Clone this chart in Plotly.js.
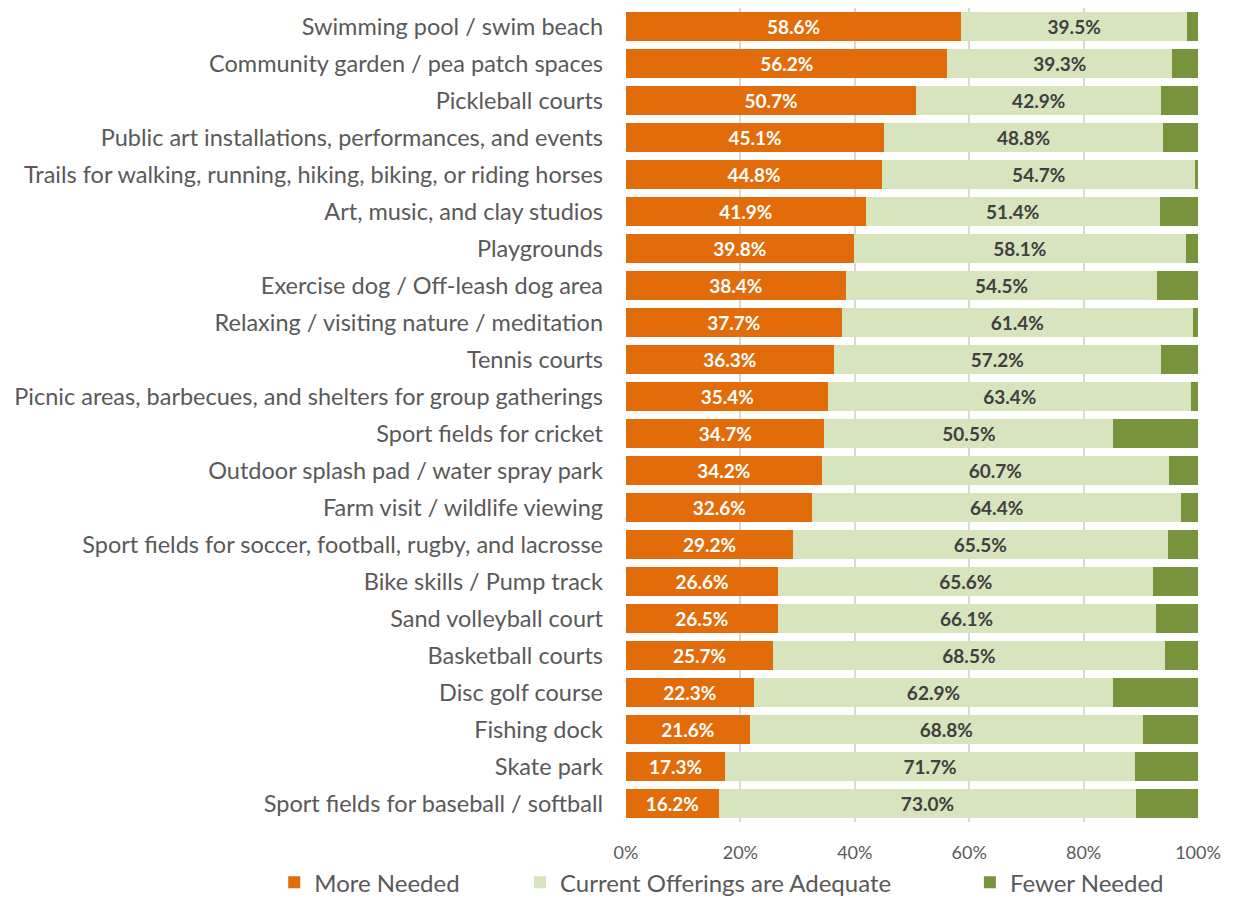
<!DOCTYPE html>
<html><head><meta charset="utf-8">
<script src="https://cdn.plot.ly/plotly-3.0.1.min.js"></script>
<style>html,body{margin:0;padding:0;background:#fff}#chart{width:1233px;height:899px}</style>
</head><body><div id="chart"></div>
<script>
const categories = [
"Swimming pool / swim beach",
"Community garden / pea patch spaces",
"Pickleball courts",
"Public art installations, performances, and events",
"Trails for walking, running, hiking, biking, or riding horses",
"Art, music, and clay studios",
"Playgrounds",
"Exercise dog / Off-leash dog area",
"Relaxing / visiting nature / meditation",
"Tennis courts",
"Picnic areas, barbecues, and shelters for group gatherings",
"Sport fields for cricket",
"Outdoor splash pad / water spray park",
"Farm visit / wildlife viewing",
"Sport fields for soccer, football, rugby, and lacrosse",
"Bike skills / Pump track",
"Sand volleyball court",
"Basketball courts",
"Disc golf course",
"Fishing dock",
"Skate park",
"Sport fields for baseball / softball"
];
const moreNeeded = [58.6,56.2,50.7,45.1,44.8,41.9,39.8,38.4,37.7,36.3,35.4,34.7,34.2,32.6,29.2,26.6,26.5,25.7,22.3,21.6,17.3,16.2];
const adequate = [39.5,39.3,42.9,48.8,54.7,51.4,58.1,54.5,61.4,57.2,63.4,50.5,60.7,64.4,65.5,65.6,66.1,68.5,62.9,68.8,71.7,73.0];
const fewerNeeded = [1.9,4.5,6.4,6.1,0.5,6.7,2.1,7.1,0.9,6.5,1.2,14.8,5.1,3.0,5.3,7.8,7.4,5.8,14.8,9.6,11.0,10.8];
const tickVals = [0,20,40,60,80,100];
const tickText = ["0%","20%","40%","60%","80%","100%"];
const seriesNames = ["More Needed","Current Offerings are Adequate","Fewer Needed"];

const FONT = "Lato, 'Open Sans', sans-serif";
const fmt = v => v.toFixed(1) + "%";
const pad = n => "\u00A0".repeat(n);
const traces = [
 {type:"bar", orientation:"h", name:seriesNames[0] + pad(9), y:categories, x:moreNeeded,
  marker:{color:"#E36C0A"}, text:moreNeeded.map(fmt), textposition:"inside", insidetextanchor:"middle",
  constraintext:"none",
  textfont:{color:"#ffffff", size:19, family:FONT, weight:"bold"}, hoverinfo:"x+y"},
 {type:"bar", orientation:"h", name:seriesNames[1] + pad(12), y:categories, x:adequate,
  marker:{color:"#D7E4BD"}, text:adequate.map(fmt), textposition:"inside", insidetextanchor:"middle",
  constraintext:"none",
  textfont:{color:"#404040", size:19, family:FONT, weight:"bold"}, hoverinfo:"x+y"},
 {type:"bar", orientation:"h", name:seriesNames[2], y:categories, x:fewerNeeded,
  marker:{color:"#77933C"}, textposition:"none", hoverinfo:"x+y"}
];
const layout = {
 width:1233, height:899, barmode:"stack", bargap:0.24,
 margin:{l:626, r:35, t:8, b:77, autoexpand:false},
 paper_bgcolor:"#fff", plot_bgcolor:"#fff",
 font:{family:FONT, color:"#595959"},
 xaxis:{range:[0,100], tickvals:tickVals, ticktext:tickText, showgrid:true, gridcolor:"#d9d9d9", gridwidth:1.5,
   zeroline:false, showline:false, ticks:"", ticklabelstandoff:18, automargin:false,
   tickfont:{size:18, color:"#595959", family:FONT}},
 yaxis:{autorange:"reversed", categoryorder:"array", categoryarray:categories, ticks:"",
   tickfont:{size:23.5, color:"#595959", family:FONT}, showline:false, ticklabelstandoff:22, automargin:false},
 legend:{orientation:"h", x:-0.615, xanchor:"left", y:-0.047, yanchor:"top",
   font:{size:24, color:"#595959", family:FONT}, traceorder:"normal"},
 showlegend:true
};
Plotly.newPlot("chart", traces, layout, {displayModeBar:false});
</script></body></html>
